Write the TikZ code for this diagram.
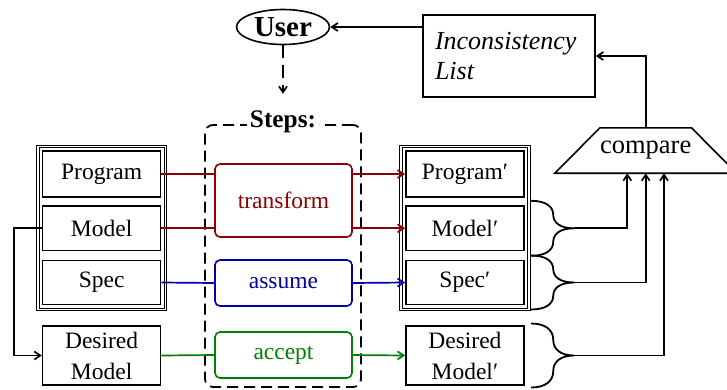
\documentclass[tikz,border=0pt]{standalone}
\usepackage{fontspec}
\setmainfont{Liberation Serif}
\usetikzlibrary{calc,arrows.meta,shapes.geometric,fit}
\definecolor{tred}{RGB}{139,0,0}
\definecolor{tblue}{RGB}{0,0,165}
\definecolor{tgreen}{RGB}{0,128,0}
\tikzset{
  lbl/.style={font=\fontsize{23.5}{31}\selectfont},
  item/.style={draw, lbl, line width=1.6pt, minimum width=118pt, inner sep=0pt, align=center},
  group/.style={draw, double, double distance=1.6pt, line width=1pt, inner sep=4pt},
  stepbox/.style={draw, lbl, line width=1.6pt, rounded corners=5pt, minimum width=137pt, inner sep=0pt, fill=white},
  conn/.style={line width=1.7pt},
  tip/.style={-{Straight Barb[length=6pt,width=8pt]}},
  pics/brc/.style={code={
    \draw[line width=1.8pt]
      (0,-#1) .. controls (14,-#1) and (22,-0.8*#1) .. (22,-0.5*#1)
              .. controls (22,-0.2*#1) and (29,0) .. (43,0)
              .. controls (29,0) and (22,0.2*#1) .. (22,0.5*#1)
              .. controls (22,0.8*#1) and (14,#1) .. (0,#1);
    \coordinate (-tip) at (43,0);
  }}
}
\begin{document}
\begin{tikzpicture}[x=1pt,y=-1pt]
\useasboundingbox (0,0) rectangle (727,389);

% user and inconsistency list
\node[draw, ellipse, line width=1.6pt, minimum width=93pt, minimum height=35pt, inner sep=0pt,
      text height=19pt, text depth=0pt, font=\fontsize{29}{31}\selectfont\bfseries] (user) at (283,27) {User};
\node[draw, line width=1.6pt, minimum width=172pt, minimum height=82pt, text width=148pt, align=left,
      inner sep=0pt, font=\fontsize{26}{30}\selectfont\itshape] (inc) at (509,56) {Inconsistency\\List};

% steps frame
\node[draw, line width=1.8pt, dash pattern=on 11pt off 6pt, rounded corners=8pt,
      minimum width=156pt, minimum height=262pt, inner sep=0pt] (steps) at (283,256) {};
\node[fill=white, inner sep=3pt, font=\fontsize{25.3}{28}\selectfont\bfseries] (stepstitle) at ([yshift=2pt]steps.north) {Steps:};

% input side
\node[item, minimum height=45.5pt] (prog) at (101.6,174) {Program};
\node[item, minimum height=44.7pt] (mdl)  at (101.6,228.3) {Model};
\node[item, minimum height=44pt]   (spec) at (101.6,282.5) {Spec};
\node[group, fit=(prog)(mdl)(spec)] (grpL) {};
\node[item, minimum height=59pt] (dmdl) at (101.6,355.5) {Desired\\Model};

% output side
\node[item, minimum height=45.5pt] (progp) at (464.9,174) {Program′};
\node[item, minimum height=44.7pt] (mdlp)  at (464.9,228.3) {Model′};
\node[item, minimum height=44pt]   (specp) at (464.9,282.5) {Spec′};
\node[group, fit=(progp)(mdlp)(specp)] (grpR) {};
\node[item, minimum height=59pt] (dmdlp) at (464.9,355.5) {Desired\\Model′};

% steps
\node[stepbox, draw=tred, text=tred, minimum height=73pt] (trans) at (283.5,200.5) {transform};
\node[stepbox, draw=tblue, text=tblue, minimum height=46pt] (assume) at (283.5,283) {assume};
\node[stepbox, draw=tgreen, text=tgreen, minimum height=46pt] (accept) at (283.5,355) {accept};

% compare
\node[minimum width=90pt, minimum height=45pt, inner sep=0pt, font=\fontsize{26.5}{28}\selectfont] (cmp) at (645.7,150.5) {compare};
\begin{scope}
  \clip (0,0) rectangle (727,389);
  \draw[line width=1.6pt, line join=miter] (cmp.north west) -- (cmp.north east)
    -- ([xshift=45pt]cmp.south east) -- ([xshift=-45pt]cmp.south west) -- cycle;
\end{scope}

% step connectors
\draw[conn, tred] (prog.east) -- (prog.east -| trans.west);
\draw[conn, tred, tip] (prog.east -| trans.east) -- (progp.west);
\draw[conn, tred] (mdl.east) -- (mdl.east -| trans.west);
\draw[conn, tred, tip] (mdl.east -| trans.east) -- (mdlp.west);
\draw[conn, tblue] (spec.east) -- (assume.west);
\draw[conn, tblue, tip] (assume.east) -- (specp.west);
\draw[conn, tgreen] (dmdl.east) -- (accept.west);
\draw[conn, tgreen, tip] (accept.east) -- (dmdlp.west);

% model copied to desired model
\draw[conn, tip] (mdl.west) -- ++(-28,0) |- (dmdl.west);

% user interaction
\coordinate (stepsin) at ([yshift=14pt]stepstitle.north);
\draw[conn, tip, dash pattern=on 13pt off 7pt] (user.south) -- (stepsin);
\draw[conn, tip] (user.east -| inc.west) -- (user.east);
\draw[conn, tip] (cmp.north) |- (inc.east);

% grouping braces into the comparison
\pic (b1) at ([xshift=2pt]grpR.east |- mdlp.center) {brc=27.5};
\pic (b2) at ([xshift=2pt]grpR.east |- specp.center) {brc=27};
\pic (b3) at ([xshift=2pt]grpR.east |- dmdlp.center) {brc=32};
\draw[conn, tip] (b1-tip) -| ([xshift=-18.4pt]cmp.south);
\draw[conn, tip] (b2-tip) -| (cmp.south);
\draw[conn, tip] (b3-tip) -| ([xshift=18.3pt]cmp.south);
\end{tikzpicture}
\end{document}
